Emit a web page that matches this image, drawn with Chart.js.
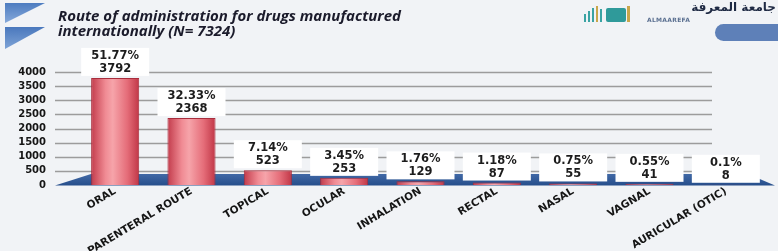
<!DOCTYPE html>
<html><head><meta charset="utf-8">
<script src="https://cdn.jsdelivr.net/npm/chart.js@4.4.0/dist/chart.umd.min.js"></script>
<style>
html,body{margin:0;padding:0;background:#f1f3f6;}
#wrap{position:relative;width:778px;height:251px;overflow:hidden;background:#f1f3f6;}
#c{position:absolute;left:0;top:0;}
#title{position:absolute;left:58px;top:8px;font:italic 700 15px "Open Sans";color:#1b1b2b;line-height:15px;white-space:nowrap;}
.tri{position:absolute;}
#t1{left:5px;top:3px;width:40px;height:20px;background:linear-gradient(180deg,#4d7cc0,#86a9da);clip-path:polygon(0 0,100% 0,0 100%);}
#t2{left:5px;top:27px;width:40px;height:22px;background:linear-gradient(180deg,#4a78bd,#7ea3d6);clip-path:polygon(0 0,100% 0,0 100%);}
#icon{position:absolute;left:584px;top:4px;width:48px;height:18px;}
#icon span{position:absolute;bottom:0;width:2px;background:#3aa3a3;}
#ar{position:absolute;left:644px;top:0px;font:700 12px "DejaVu Sans";color:#1f2a44;direction:rtl;width:132px;text-align:right;}
#en{position:absolute;left:647px;top:16px;font:700 6px "DejaVu Sans";color:#5a6f90;letter-spacing:0.3px;}
#blob{position:absolute;left:715px;top:24px;width:63px;height:17px;border-radius:9px 0 0 9px;background:#5e80b8;}
</style>
</head><body>
<div id="wrap">
<canvas id="c" width="778" height="251"></canvas>
<div class="tri" id="t1"></div><div class="tri" id="t2"></div>
<div id="title">Route of administration for drugs manufactured<br>internationally (N= 7324)</div>
<div id="icon">
<span style="left:0;height:8px"></span><span style="left:4px;height:11px"></span><span style="left:8px;height:14px"></span><span style="left:12px;height:16px;background:#c9a64a"></span><span style="left:16px;height:13px"></span>
<span style="left:22px;width:20px;height:14px;background:#2f9a9a;border-radius:2px"></span>
<span style="left:43px;width:3px;height:16px;background:#c9a64a"></span>
</div>
<div id="ar">جامعة المعرفة</div>
<div id="en">ALMAAREFA</div>
<div id="blob"></div>
</div>
<script>
const categories = ['ORAL','PARENTERAL ROUTE','TOPICAL','OCULAR','INHALATION','RECTAL','NASAL','VAGNAL','AURICULAR (OTIC)'];
const counts = [3792, 2368, 523, 253, 129, 87, 55, 41, 8];
const percentLabels = ['51.77%','32.33%','7.14%','3.45%','1.76%','1.18%','0.75%','0.55%','0.1%'];
const yMin = 0, yMax = 4000, yStep = 500;

const BAR_PCT = 0.63;

function barGradient(ctx) {
  const chart = ctx.chart;
  const xs = chart.scales.x;
  if (!xs || !chart.chartArea) return '#e06a75';
  const cx = xs.getPixelForValue(ctx.dataIndex);
  const w = (chart.chartArea.width / categories.length) * BAR_PCT;
  const g = chart.ctx.createLinearGradient(cx - w/2, 0, cx + w/2, 0);
  g.addColorStop(0, '#c23b4b');
  g.addColorStop(0.3, '#f08b94');
  g.addColorStop(0.45, '#f6a4aa');
  g.addColorStop(0.75, '#e56d79');
  g.addColorStop(1, '#c03646');
  return g;
}

const backdrop = {
  id: 'backdrop',
  beforeDatasetsDraw(chart) {
    const {ctx, chartArea: a, scales: {y}} = chart;
    ctx.save();
    ctx.strokeStyle = '#9c9c9c';
    ctx.lineWidth = 1.5;
    y.ticks.forEach(t => {
      if (t.value === 0) return;
      const py = Math.round(y.getPixelForValue(t.value)) + 0.5;
      ctx.beginPath();
      ctx.moveTo(a.left - 22, py);
      ctx.lineTo(a.right - 52, py);
      ctx.stroke();
    });
    const y0 = y.getPixelForValue(0);
    const g = ctx.createLinearGradient(0, y0 - 11, 0, y0);
    g.addColorStop(0, '#4169a6');
    g.addColorStop(1, '#274f8c');
    ctx.fillStyle = g;
    ctx.beginPath();
    ctx.moveTo(a.left - 22, y0 + 0.5);
    ctx.lineTo(a.left + 14, y0 - 11);
    ctx.lineTo(a.right - 16, y0 - 11);
    ctx.lineTo(a.right + 11, y0 + 0.5);
    ctx.closePath();
    ctx.fill();
    ctx.restore();
  },
  afterDatasetsDraw(chart) {
    const {ctx} = chart;
    const meta = chart.getDatasetMeta(0);
    ctx.save();
    meta.data.forEach((el, i) => {
      const bw = 68, bh = 28;
      const bx = el.x - bw/2, by = el.y - 2 - bh;
      ctx.fillStyle = '#ffffff';
      ctx.fillRect(bx, by, bw, bh);
      ctx.fillStyle = '#1c1c1c';
      ctx.font = 'bold 11.5px "DejaVu Sans"';
      ctx.textAlign = 'center';
      ctx.textBaseline = 'middle';
      ctx.fillText(percentLabels[i], el.x, by + 8);
      ctx.fillText(String(counts[i]), el.x, by + 21);
    });
    ctx.restore();
  }
};

new Chart(document.getElementById('c'), {
  type: 'bar',
  data: {
    labels: categories,
    datasets: [{
      data: counts,
      backgroundColor: barGradient,
      borderColor: '#a92d3c',
      borderWidth: 1,
      barPercentage: BAR_PCT,
      categoryPercentage: 1
    }]
  },
  options: {
    responsive: false,
    animation: false,
    layout: {padding: {top: 72, right: 14, left: 0, bottom: 0}},
    plugins: {legend: {display: false}, tooltip: {enabled: false}, title: {display: false}},
    scales: {
      x: {
        grid: {display: false},
        border: {display: false},
        ticks: {
          autoSkip: false, minRotation: 31, maxRotation: 31,
          color: '#151515', font: {family: 'DejaVu Sans', weight: 'bold', size: 10.5}, padding: -8
        },
        afterFit(s) { s.height = 66; }
      },
      y: {
        min: yMin, max: yMax,
        grid: {display: false, drawTicks: false},
        border: {display: false},
        ticks: {
          stepSize: yStep, autoSkip: false, color: '#151515', padding: 31,
          font: {family: 'DejaVu Sans', weight: 'bold', size: 10},
          callback: v => String(v)
        },
        afterFit(s) { s.width = 77; }
      }
    }
  },
  plugins: [backdrop]
});
</script>
</body></html>
